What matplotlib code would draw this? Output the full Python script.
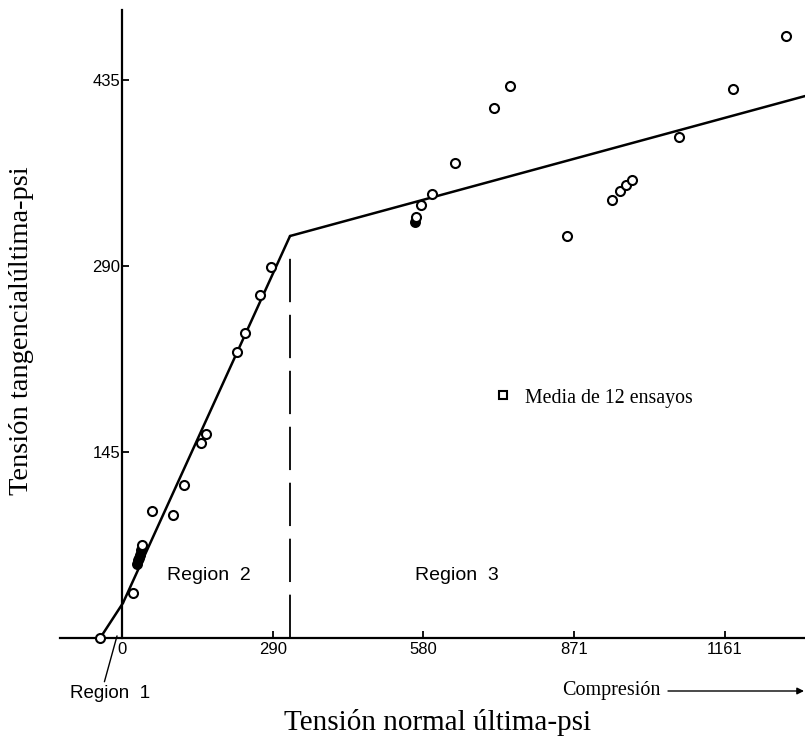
import matplotlib
matplotlib.use("Agg")
import matplotlib.pyplot as plt

# values (psi)
x_ticks = [0, 290, 580, 871, 1161]
y_ticks = [145, 290, 435]

# fitted failure envelope, three straight pieces
reg1_x = [-42.0, 1.9]
reg1_y = [0.0, 27.3]
reg2_x = [1.9, 323.5]
reg2_y = [27.3, 313.4]
reg3_x = [323.5, 1315.0]
reg3_y = [313.4, 422.5]

# test results, open circles
open_x = [-42.0, 21.0, 38.5, 57.8, 98.2, 119.4, 152.1, 161.7, 221.4, 236.8,
          265.7, 286.9, 567.0, 575.7, 596.9, 641.2, 716.2, 747.0, 856.8,
          943.4, 958.8, 970.4, 982.0, 1072.4, 1176.4, 1278.5]
open_y = [0.0, 35.0, 72.5, 99.0, 95.9, 119.3, 152.0, 159.0, 223.0, 237.8,
          267.4, 289.2, 328.5, 337.6, 346.1, 370.3, 413.2, 430.3, 313.4,
          341.5, 348.5, 353.2, 357.0, 390.6, 428.0, 469.3]
# overlapping points that print as a dark blob
filled_x = [36.6, 34.7, 32.7, 30.8, 28.9, 564.5]
filled_y = [68.6, 64.7, 62.3, 60.8, 57.7, 324.5]

# legend entry (mean of 12 tests)
mean_x = [733.6]
mean_y = [189.4]

W, H = 805, 747
SERIF = ["Liberation Serif", "DejaVu Serif"]
SANS = ["Liberation Sans", "DejaVu Sans"]


def fx(px):
    return px / W


def fy(py):
    return 1 - py / H


fig = plt.figure(figsize=(W / 100, H / 100), dpi=100)
ax = fig.add_axes([0, 0, 1, 1])
ax.set_xlim(-234.9, 1315.0)
ax.set_ylim(-85.0, 497.4)

for s in ["top", "right"]:
    ax.spines[s].set_visible(False)
ax.spines["left"].set_position(("data", 0))
ax.spines["bottom"].set_position(("data", 0))
ax.spines["left"].set_bounds(0, 489.6)
ax.spines["bottom"].set_bounds(-119.4, 1315.0)
for s in ["left", "bottom"]:
    ax.spines[s].set_linewidth(1.6)

ax.set_xticks(x_ticks)
ax.set_xticklabels([str(v) for v in x_ticks])
ax.set_yticks(y_ticks)
ax.set_yticklabels([str(v) for v in y_ticks])
ax.tick_params(axis="both", direction="in", length=5, width=1.3,
               labelsize=12, pad=3)
ax.tick_params(axis="y", pad=1)
for lab in ax.get_xticklabels() + ax.get_yticklabels():
    lab.set_family(SANS)

line_kw = dict(color="black", lw=1.8, solid_capstyle="round", zorder=2)
ax.plot(reg1_x, reg1_y, **line_kw)
ax.plot(reg2_x, reg2_y, **line_kw)
ax.plot(reg3_x, reg3_y, **line_kw)

# boundary between region 2 and 3
ax.plot([reg2_x[1], reg2_x[1]], [0, 301], color="black", lw=1.3,
        dashes=(24, 7), zorder=2)

ax.plot(filled_x, filled_y, "o", ms=6.5, mfc="black", mec="black",
        mew=1.4, zorder=3)
ax.plot(open_x, open_y, "o", ms=6.5, mfc="white", mec="black",
        mew=1.5, zorder=4)
ax.plot(mean_x, mean_y, "s", ms=5.5, mfc="white", mec="black",
        mew=1.5, zorder=4)

ax.text(fx(525), fy(399), "Media de 12 ensayos", transform=fig.transFigure,
        family=SERIF, fontsize=14.3, va="center", ha="left")

ax.text(fx(167), fy(575), "Region  2", transform=fig.transFigure,
        family=SANS, fontsize=14, va="center", ha="left")
ax.text(fx(415), fy(575), "Region  3", transform=fig.transFigure,
        family=SANS, fontsize=14, va="center", ha="left")

# Region 1 label with leader line
ax.annotate("Region  1", xy=(-9.6, 1.6), xytext=(fx(70), fy(693)),
            textcoords="figure fraction", family=SANS, fontsize=13.5,
            va="center", ha="left", annotation_clip=False,
            arrowprops=dict(arrowstyle="-", color="black", lw=1.0,
                            shrinkA=0, shrinkB=0,
                            relpos=(0.42, 1.0)))

# direction of compression
ax.text(fx(562), fy(690), "Compresión", transform=fig.transFigure,
        family=SERIF, fontsize=14.5, va="center", ha="left")
ax.annotate("", xy=(fx(804), fy(691)), xytext=(fx(668), fy(691)),
            xycoords="figure fraction", textcoords="figure fraction",
            arrowprops=dict(arrowstyle="-|>", color="black", lw=1.0,
                            mutation_scale=10, shrinkA=0, shrinkB=0))

fig.text(fx(438), fy(722), "Tensión normal última-psi", family=SERIF,
         fontsize=21, ha="center", va="center")
fig.text(fx(22), fy(331), "Tensión tangencialúltima-psi", family=SERIF,
         fontsize=20.5, ha="center", va="center", rotation=90)

fig.savefig("out.png", dpi=100)
